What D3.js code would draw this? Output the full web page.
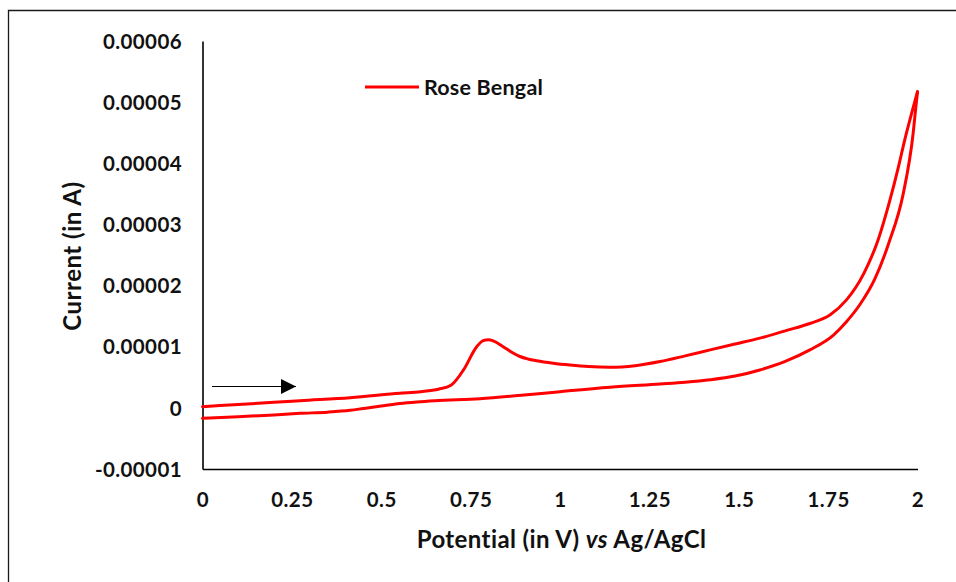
<!DOCTYPE html>
<html>
<head>
<meta charset="utf-8">
<script src="https://cdn.jsdelivr.net/npm/d3@7"></script>
<style>
  html, body { margin: 0; padding: 0; background: #fff; }
  svg { display: block; }
  text { font-family: Lato, "Open Sans", "Liberation Sans", sans-serif; font-weight: 700; fill: #111; }
</style>
</head>
<body>
<svg id="chart" width="956" height="582"></svg>
<script>
// Cyclic voltammogram of Rose Bengal: anodic sweep 0 → 2 V, then the return sweep 2 → 0 V.
const forwardPotential = [0, 0.1, 0.2, 0.273, 0.413, 0.552, 0.61, 0.66, 0.695, 0.73, 0.767, 0.785, 0.8, 0.815, 0.841, 0.865, 0.888, 0.91, 0.935, 0.981, 1.028, 1.08, 1.14, 1.21, 1.28, 1.35, 1.42, 1.49, 1.559, 1.63, 1.699, 1.755, 1.802, 1.85, 1.89, 1.923, 1.945, 1.965, 1.985, 2.0];
const forwardCurrent = [0.2e-6, 0.55e-6, 0.9e-6, 1.18e-6, 1.67e-6, 2.39e-6, 2.65e-6, 3.05e-6, 3.7e-6, 6.2e-6, 10.0e-6, 11.0e-6, 11.15e-6, 10.9e-6, 10.0e-6, 9.1e-6, 8.4e-6, 8.0e-6, 7.7e-6, 7.3e-6, 7.0e-6, 6.75e-6, 6.64e-6, 6.9e-6, 7.57e-6, 8.5e-6, 9.48e-6, 10.45e-6, 11.4e-6, 12.6e-6, 13.8e-6, 15.2e-6, 17.7e-6, 22.0e-6, 27.5e-6, 34.0e-6, 39.0e-6, 44.0e-6, 48.5e-6, 51.7e-6];

const reversePotential = [2.0, 1.995, 1.988, 1.96, 1.92, 1.88, 1.839, 1.8, 1.765, 1.699, 1.63, 1.559, 1.49, 1.42, 1.35, 1.28, 1.14, 1.0, 0.9, 0.776, 0.65, 0.6, 0.552, 0.5, 0.45, 0.413, 0.35, 0.273, 0.2, 0.1, 0];
const reverseCurrent = [51.7e-6, 49.0e-6, 45.0e-6, 35.0e-6, 27.0e-6, 21.0e-6, 16.9e-6, 14.0e-6, 11.9e-6, 9.48e-6, 7.6e-6, 6.2e-6, 5.2e-6, 4.6e-6, 4.2e-6, 3.91e-6, 3.37e-6, 2.65e-6, 2.1e-6, 1.5e-6, 1.15e-6, 0.95e-6, 0.7e-6, 0.3e-6, -0.1e-6, -0.4e-6, -0.7e-6, -0.9e-6, -1.15e-6, -1.45e-6, -1.7e-6];

const xTicks = [0, 0.25, 0.5, 0.75, 1, 1.25, 1.5, 1.75, 2];
const xTickLabels = ["0", "0.25", "0.5", "0.75", "1", "1.25", "1.5", "1.75", "2"];
const yTicks = [-0.00001, 0, 0.00001, 0.00002, 0.00003, 0.00004, 0.00005, 0.00006];
const yTickLabels = ["-0.00001", "0", "0.00001", "0.00002", "0.00003", "0.00004", "0.00005", "0.00006"];

const seriesName = "Rose Bengal";
const lineColor = "#ff0000";

const svg = d3.select("#chart");

// Frame edges of the chart area
svg.append("path")
  .attr("d", "M8.5,582V10.5H956")
  .attr("fill", "none")
  .attr("stroke", "#1a1a1a")
  .attr("stroke-width", 1.3);

const x = d3.scaleLinear().domain([0, 2]).range([202.5, 917.5]);
const y = d3.scaleLinear().domain([-0.00001, 0.00006]).range([469, 41]);

// Y axis
const yAxis = d3.axisLeft(y)
  .tickValues(yTicks)
  .tickFormat((d, i) => yTickLabels[i])
  .tickSize(0)
  .tickPadding(20.5);
const gy = svg.append("g").attr("transform", `translate(${x(0)},0)`).call(yAxis);
gy.select(".domain").attr("stroke", "#000").attr("stroke-width", 1.6);
gy.selectAll(".tick text")
  .attr("font-size", 20.5)
  .attr("letter-spacing", 0.4)
  .attr("font-family", null)
  .attr("dy", "0.35em");

// X axis along the bottom of the plot
const xAxis = d3.axisBottom(x)
  .tickValues(xTicks)
  .tickFormat((d, i) => xTickLabels[i])
  .tickSize(0);
const gx = svg.append("g").attr("transform", `translate(0,${y(-0.00001)})`).call(xAxis);
gx.select(".domain").attr("stroke", "#000").attr("stroke-width", 1.6);
gx.selectAll(".tick text")
  .attr("font-size", 20.5)
  .attr("letter-spacing", 0.4)
  .attr("font-family", null)
  .attr("y", 38)
  .attr("dy", 0);

// Axis titles
const xt = svg.append("text")
  .attr("x", 561.5)
  .attr("y", 548)
  .attr("text-anchor", "middle")
  .attr("letter-spacing", 0.4)
  .attr("font-size", 24);
xt.append("tspan").text("Potential (in V) ");
xt.append("tspan").attr("font-style", "italic").text("vs");
xt.append("tspan").text(" Ag/AgCl");

svg.append("text")
  .attr("transform", "translate(81,256) rotate(-90)")
  .attr("text-anchor", "middle")
  .attr("letter-spacing", 0.5)
  .attr("font-size", 24)
  .text("Current (in A)");

// Voltammogram sweeps, each drawn with ascending potential
const line = d3.line()
  .x(d => x(d[0]))
  .y(d => y(d[1]))
  .curve(d3.curveMonotoneX);

const forward = forwardPotential.map((v, i) => [v, forwardCurrent[i]]);
const reverse = reversePotential.map((v, i) => [v, reverseCurrent[i]]).reverse();

svg.selectAll("path.sweep")
  .data([forward, reverse])
  .join("path")
  .attr("class", "sweep")
  .attr("d", line)
  .attr("fill", "none")
  .attr("stroke", lineColor)
  .attr("stroke-width", 3)
  .attr("stroke-linejoin", "round")
  .attr("stroke-linecap", "round");

// Scan direction arrow
svg.append("defs").append("marker")
  .attr("id", "arrowhead")
  .attr("viewBox", "0 0 10 10")
  .attr("refX", 10).attr("refY", 5)
  .attr("markerWidth", 17).attr("markerHeight", 15)
  .attr("markerUnits", "userSpaceOnUse")
  .attr("orient", "auto")
  .append("path")
  .attr("d", "M0,0L10,5L0,10Z")
  .attr("fill", "#000");

svg.append("line")
  .attr("x1", 212).attr("y1", 386.5)
  .attr("x2", 296).attr("y2", 386.5)
  .attr("stroke", "#000")
  .attr("stroke-width", 1.2)
  .attr("marker-end", "url(#arrowhead)");

// Legend
const legend = svg.append("g");
legend.append("line")
  .attr("x1", 365).attr("x2", 419)
  .attr("y1", 87).attr("y2", 87)
  .attr("stroke", lineColor)
  .attr("stroke-width", 3);
legend.append("text")
  .attr("x", 424)
  .attr("y", 95)
  .attr("font-size", 21.5)
  .attr("letter-spacing", 0.2)
  .text(seriesName);
</script>
</body>
</html>
